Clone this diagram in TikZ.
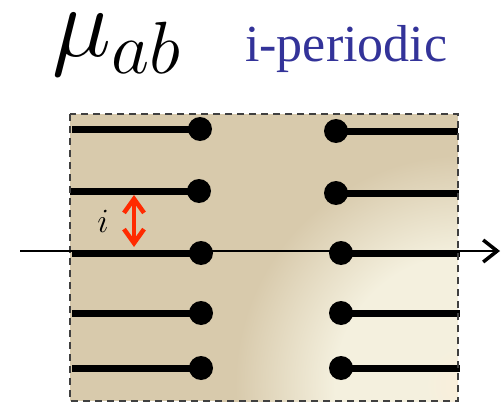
\RequirePackage{fix-cm}
\documentclass[tikz,border=0pt]{standalone}
\usepackage{fontspec}
\newfontfamily\timesfont{Liberation Serif}
\usetikzlibrary{arrows.meta}
\DeclareMathSizes{100}{100}{74}{60}
\DeclareMathSizes{34}{34}{24}{17}
\definecolor{bgdark}{HTML}{D8CAAC}
\definecolor{bglight}{HTML}{F4F0DE}
\definecolor{bgwarm}{HTML}{FBEEDA}
\definecolor{titleblue}{HTML}{333399}
\definecolor{arrred}{HTML}{FF2A00}
\pgfdeclareradialshading{bgshade}{\pgfpoint{0bp}{0bp}}{color(0bp)=(bgwarm); color(4bp)=(bglight); color(13bp)=(bglight); color(23bp)=(bgdark); color(50bp)=(bgdark)}
\tikzset{
  dot/.style={circle, fill=black, inner sep=0pt, minimum size=24pt},
  wire/.style={line width=7pt, black},
  boxline/.style={draw=black!75, line width=1.4pt, dash pattern=on 7pt off 5pt},
  axis/.style={line width=2pt, -{Straight Barb[length=14pt,width=22pt,line width=3.5pt]}},
  redarr/.style={arrred, line width=4.5pt, {Straight Barb[length=14pt,width=20pt,line width=4.5pt]}-{Straight Barb[length=14pt,width=20pt,line width=4.5pt]}}
}
\begin{document}
\begin{tikzpicture}[x=1pt,y=-1pt]
\useasboundingbox (0,0) rectangle (501,404);
% background box
\begin{scope}
\clip (70,114) rectangle (458,401);
\fill[bgdark] (70,114) rectangle (458,401);
\shade[shading=bgshade] (465,385) circle (250);
\end{scope}
% titles
\node[anchor=base west, inner sep=0pt, font=\fontsize{100}{104}\selectfont] (mu) at (52,57) {$\mu_{ab}$};
\node[anchor=base west, inner sep=0pt, text=titleblue, font=\timesfont\fontsize{52}{56}\selectfont] (title) at (245,62) {i-periodic};
% left dots
\node[dot] (l1) at (200,129) {};
\node[dot] (l2) at (199,191) {};
\node[dot] (l3) at (201,253) {};
\node[dot] (l4) at (201,313) {};
\node[dot] (l5) at (201,368) {};
\coordinate (ls1) at (72,129);
\coordinate (ls2) at (70,191);
\coordinate (ls3) at (72,253);
\coordinate (ls4) at (72,313);
\coordinate (ls5) at (72,368);
\foreach \i in {1,...,5} {\draw[wire] (ls\i) -- (l\i.center);}
% right dots
\node[dot] (r1) at (336,131) {};
\node[dot] (r2) at (336,193) {};
\node[dot] (r3) at (341,253) {};
\node[dot] (r4) at (341,313) {};
\node[dot] (r5) at (341,368) {};
\coordinate (re1) at (458,131);
\coordinate (re2) at (459,193);
\coordinate (re3) at (460,253);
\coordinate (re4) at (460,313);
\coordinate (re5) at (460,368);
\foreach \i in {1,...,5} {\draw[wire] (r\i.center) -- (re\i);}
% dashed frame
\draw[boxline] (70,114) rectangle (458,401);
% axis
\coordinate (axs) at (20,251);
\coordinate (axe) at (500,251);
\draw[axis] (axs) -- (axe);
% red double arrow
\coordinate (ra) at (134,195);
\coordinate (rb) at (134,247);
\draw[redarr] (ra) -- (rb);
\node[font=\fontsize{34}{36}\selectfont] (ilab) at (103,221) {$i$};
\end{tikzpicture}
\end{document}
